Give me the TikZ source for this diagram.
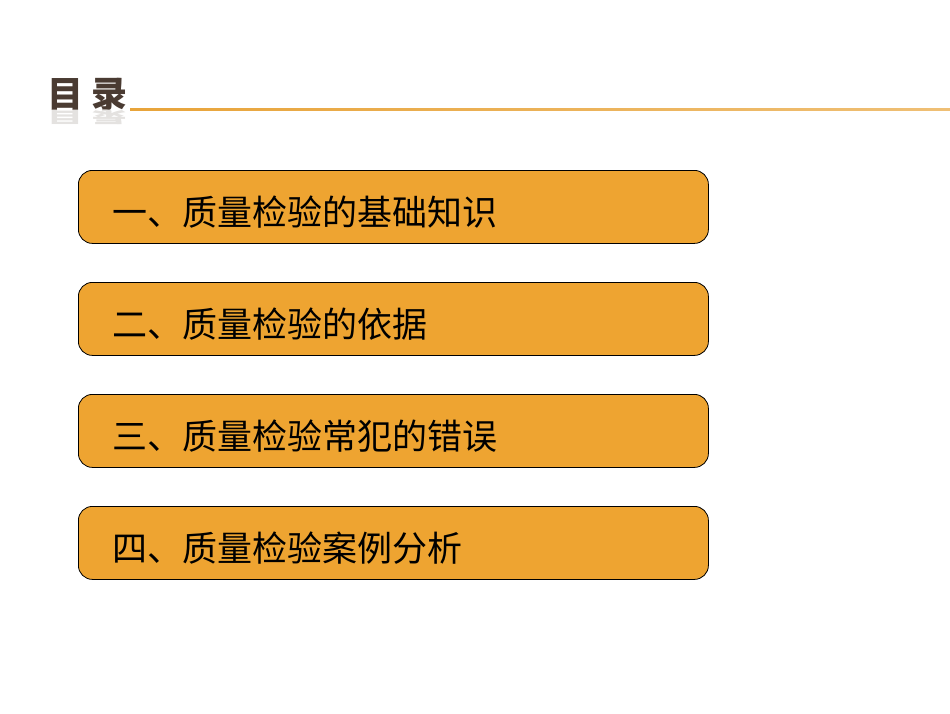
\documentclass[tikz,border=0pt]{standalone}
\usepackage{fontspec}
\newfontfamily\cjk{Noto Sans CJK SC}
\definecolor{boxor}{HTML}{EEA431}
\definecolor{titbr}{HTML}{4A3B32}
\definecolor{lineor}{HTML}{E8A43A}
\begin{document}
\begin{tikzpicture}[x=1pt,y=-1pt,
  item/.style={draw=black,line width=0.8pt,fill=boxor,rounded corners=14pt,minimum width=630pt,minimum height=73pt,anchor=north west,inner sep=0pt},
  itemtext/.style={anchor=west,font=\cjk\fontsize{35}{38}\selectfont,text=black,inner sep=0pt}]
\useasboundingbox (0,0) rectangle (950,713);
\fill[white] (0,0) rectangle (950,713);
\shade[left color=lineor,right color=lineor!70!white] (130,108) rectangle (950,110.5);
\node[anchor=west,font=\cjk\bfseries\fontsize{36}{38}\selectfont,text=titbr,inner sep=0pt] (title) at (47,95) {目\hspace{8pt}录};
\node[anchor=west,font=\cjk\bfseries\fontsize{36}{38}\selectfont,text=titbr!15!white,inner sep=0pt,yscale=-0.45] (refl) at (47,117) {目\hspace{8pt}录};
\node[item] (b1) at (78,170) {};
\node[item] (b2) at (78,282) {};
\node[item] (b3) at (78,394) {};
\node[item] (b4) at (78,506) {};
\node[itemtext] (t1) at (112,212) {一、质量检验的基础知识};
\node[itemtext] (t2) at (112,324) {二、质量检验的依据};
\node[itemtext] (t3) at (112,436) {三、质量检验常犯的错误};
\node[itemtext] (t4) at (112,548) {四、质量检验案例分析};
\end{tikzpicture}
\end{document}
